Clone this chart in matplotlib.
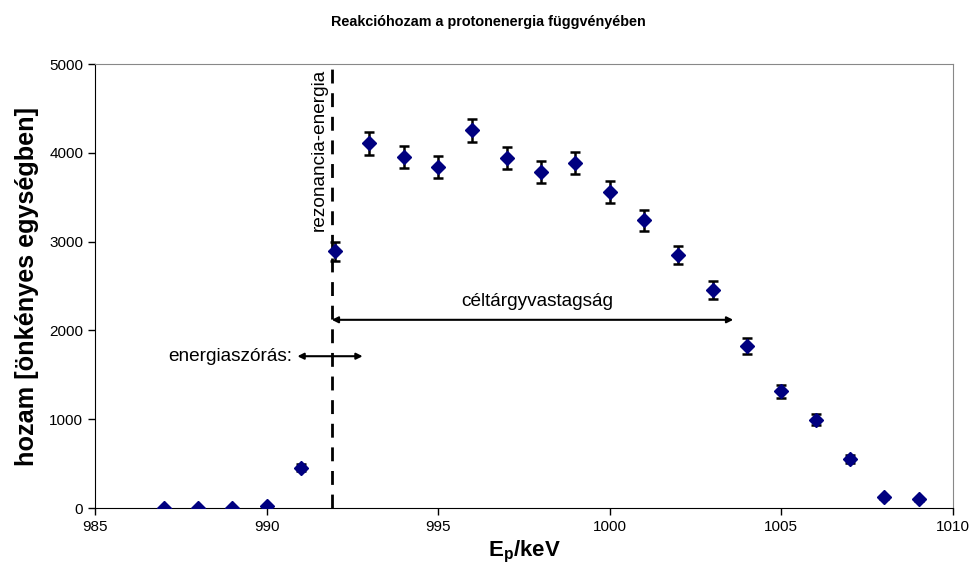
import matplotlib
matplotlib.use("Agg")
import matplotlib.pyplot as plt

plt.rcParams['font.family'] = ['Liberation Sans', 'DejaVu Sans']
plt.rcParams['mathtext.fontset'] = 'custom'
plt.rcParams['mathtext.rm'] = 'Liberation Sans'
plt.rcParams['mathtext.bf'] = 'Liberation Sans:bold'

energy = [987, 988, 989, 990, 991, 992, 993, 994, 995, 996, 997, 998, 999,
          1000, 1001, 1002, 1003, 1004, 1005, 1006, 1007, 1008, 1009]
yield_vals = [0, 0, 5, 25, 455, 2890, 4110, 3950, 3840, 4255, 3940, 3785, 3890,
              3560, 3240, 2850, 2460, 1820, 1315, 995, 557, 120, 98]
errors = [0, 0, 0, 0, 40, 110, 130, 125, 124, 130, 125, 123, 124,
          120, 115, 105, 100, 90, 75, 62, 45, 20, 19]

resonance = 991.9
title = 'Reakcióhozam a protonenergia függvényében'

fig = plt.figure(figsize=(9.76, 5.83), dpi=100)
ax = fig.add_axes([0.0973, 0.1286, 0.879, 0.7614])

ax.errorbar(energy, yield_vals, yerr=errors, fmt='none', ecolor='black',
            elinewidth=1.8, capsize=3.5, capthick=1.8, zorder=2)
ax.plot(energy, yield_vals, linestyle='none', marker='D', markersize=7.5,
        color='#000080', zorder=3)

ax.axvline(resonance, color='black', linestyle=(0, (5, 3.5)), linewidth=2, zorder=1)

ax.annotate('', xy=(1003.6, 2120), xytext=(resonance, 2120),
            arrowprops=dict(arrowstyle='<|-|>', color='black', lw=1.5,
                            mutation_scale=9, shrinkA=0, shrinkB=0))
ax.text(997.9, 2230, 'céltárgyvastagság', ha='center', va='bottom', fontsize=13.7)

ax.annotate('', xy=(992.8, 1710), xytext=(990.9, 1710),
            arrowprops=dict(arrowstyle='<|-|>', color='black', lw=1.5,
                            mutation_scale=9, shrinkA=0, shrinkB=0))
ax.text(990.75, 1710, 'energiaszórás:', ha='right', va='center', fontsize=13.7)

ax.text(991.55, 4950, 'rezonancia-energia', rotation=90, ha='center', va='top',
        fontsize=13.7)

ax.set_xlim(985, 1010)
ax.set_ylim(0, 5000)
ax.set_xticks(range(985, 1011, 5))
ax.set_yticks(range(0, 5001, 1000))
ax.tick_params(direction='out', length=5, labelsize=11, width=1)

for s in ['top', 'right']:
    ax.spines[s].set_color('#888888')
for s in ['left', 'bottom']:
    ax.spines[s].set_color('black')

ax.set_xlabel(r'$\mathbf{E_p/keV}$', fontsize=16, labelpad=4)
ax.set_ylabel('hozam [önkényes egységben]', fontsize=18.2, fontweight='bold', labelpad=7)
fig.suptitle(title, fontsize=10.4, fontweight='bold', y=0.975)

fig.savefig('out.png', dpi=100)
